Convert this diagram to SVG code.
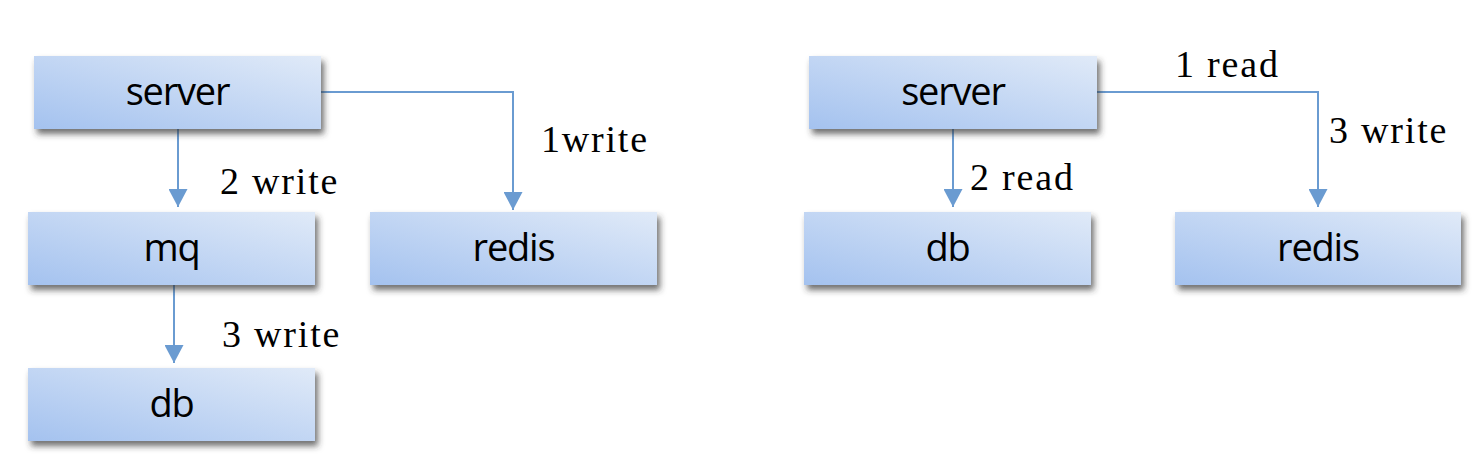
<svg xmlns="http://www.w3.org/2000/svg" width="1480" height="462" viewBox="0 0 1480 462">
<defs>
<linearGradient id="g" x1="0" y1="1" x2="1" y2="0">
<stop offset="0" stop-color="#a4c2ef"/>
<stop offset="1" stop-color="#e0eaf8"/>
</linearGradient>
<filter id="sh" x="-10%" y="-20%" width="125%" height="160%">
<feDropShadow dx="3" dy="5" stdDeviation="3" flood-color="#333" flood-opacity="0.7"/>
</filter>
<marker id="arr" viewBox="0 0 18 19" refX="18" refY="9.5" markerWidth="18" markerHeight="19" markerUnits="userSpaceOnUse" orient="auto">
<path d="M0,0 L18,9.5 L0,19 z" fill="#6a9bd1"/>
</marker>
</defs>
<style>
.box{fill:url(#g);filter:url(#sh)}
.nt{font-family:"Open Sans","Noto Sans",sans-serif;font-size:38px;letter-spacing:-1.2px;fill:#000;text-anchor:middle}
.lb{font-family:"Liberation Serif","DejaVu Serif",serif;font-size:38px;letter-spacing:1.8px;fill:#000}
.ln{fill:none;stroke:#6a9bd1;stroke-width:2;marker-end:url(#arr)}
</style>
<rect width="1480" height="462" fill="#fff"/>
<g id="connectors">
<path class="ln" d="M178,129 V207"/>
<path class="ln" d="M321,92 H513 V210"/>
<path class="ln" d="M174,285 V363"/>
<path class="ln" d="M953,129 V207"/>
<path class="ln" d="M1097,92 H1318 V207"/>
</g>
<g id="labels">
<text class="lb" x="220" y="194">2 write</text>
<text class="lb" x="541" y="152">1write</text>
<text class="lb" x="222" y="347">3 write</text>
<text class="lb" x="1175" y="77">1 read</text>
<text class="lb" x="970" y="190">2 read</text>
<text class="lb" x="1329" y="143">3 write</text>
</g>
<g id="node-server-left">
<rect class="box" x="34" y="56" width="287" height="73"/>
<text class="nt" x="177.5" y="105">server</text>
</g>
<g id="node-mq">
<rect class="box" x="28" y="212" width="287" height="73"/>
<text class="nt" x="171.5" y="261">mq</text>
</g>
<g id="node-redis-left">
<rect class="box" x="370" y="212" width="287" height="73"/>
<text class="nt" x="513.5" y="261">redis</text>
</g>
<g id="node-db-left">
<rect class="box" x="28" y="368" width="287" height="73"/>
<text class="nt" x="171.5" y="417">db</text>
</g>
<g id="node-server-right">
<rect class="box" x="809" y="56" width="288" height="73"/>
<text class="nt" x="953" y="105">server</text>
</g>
<g id="node-db-right">
<rect class="box" x="804" y="212" width="287" height="73"/>
<text class="nt" x="947.5" y="261">db</text>
</g>
<g id="node-redis-right">
<rect class="box" x="1175" y="212" width="286" height="73"/>
<text class="nt" x="1318" y="261">redis</text>
</g>
</svg>
